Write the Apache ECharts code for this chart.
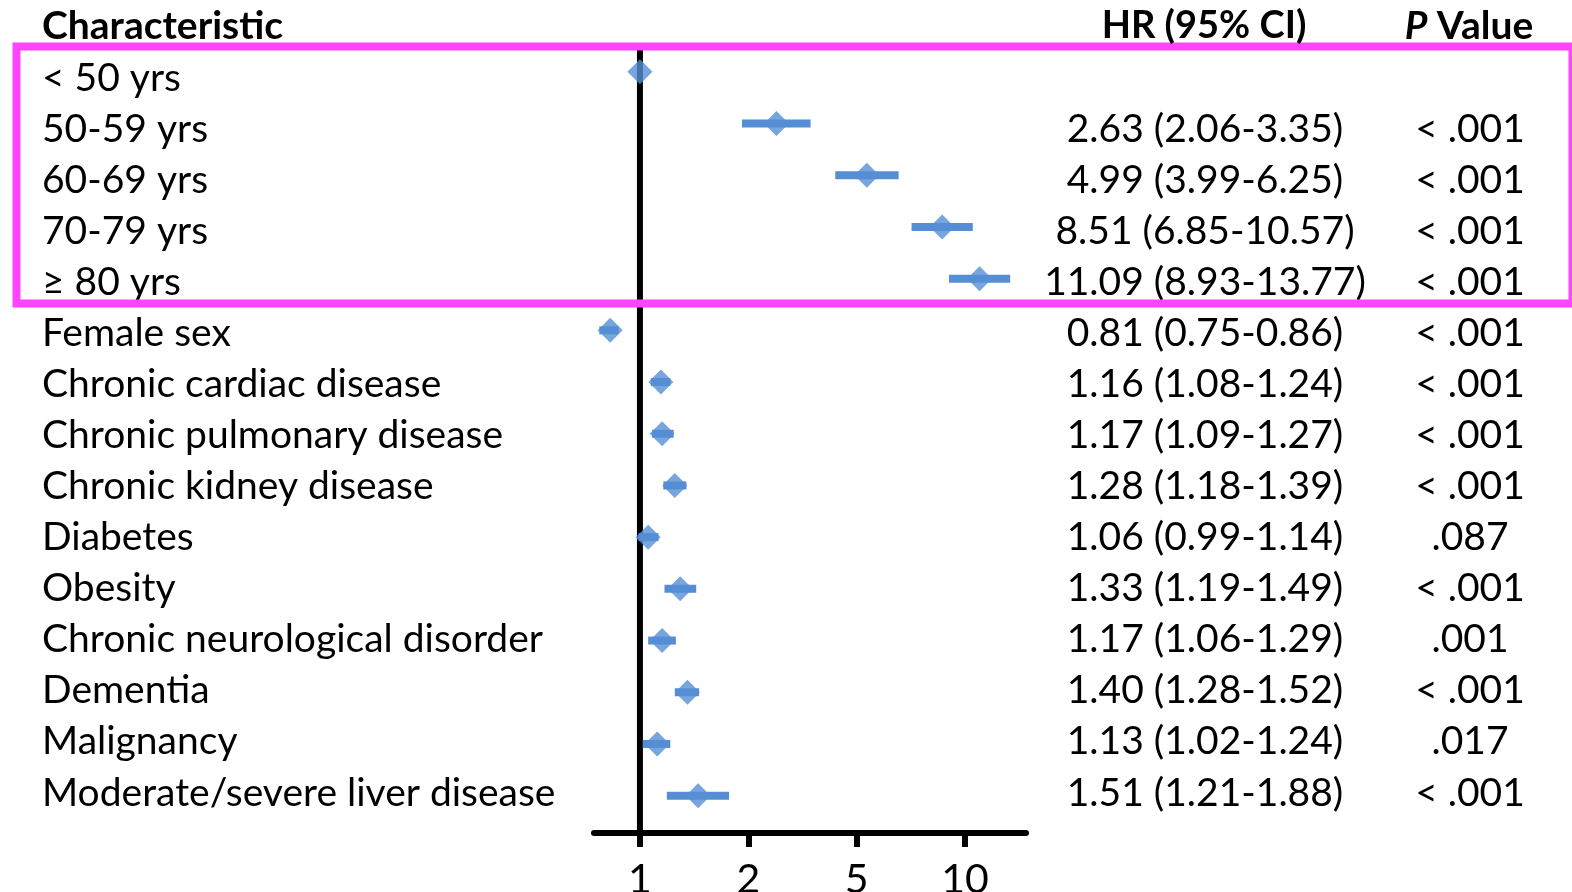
<!DOCTYPE html>
<html>
<head>
<meta charset="utf-8">
<script src="https://cdn.jsdelivr.net/npm/echarts@6/dist/echarts.min.js"></script>
<style>
html,body{margin:0;padding:0;background:#fff;}
#chart{width:1572px;height:892px;}
</style>
</head>
<body>
<div id="chart"></div>
<script>
// ---- data ----
const categories = ['< 50 yrs','50-59 yrs','60-69 yrs','70-79 yrs','≥ 80 yrs','Female sex','Chronic cardiac disease','Chronic pulmonary disease','Chronic kidney disease','Diabetes','Obesity','Chronic neurological disorder','Dementia','Malignancy','Moderate/severe liver disease'];
const hrValues = [1, 2.63, 4.99, 8.51, 11.09, 0.81, 1.16, 1.17, 1.28, 1.06, 1.33, 1.17, 1.40, 1.13, 1.51];
const ciLow = [null, 2.06, 3.99, 6.85, 8.93, 0.75, 1.08, 1.09, 1.18, 0.99, 1.19, 1.06, 1.28, 1.02, 1.21];
const ciHigh = [null, 3.35, 6.25, 10.57, 13.77, 0.86, 1.24, 1.27, 1.39, 1.14, 1.49, 1.29, 1.52, 1.24, 1.88];
const pValues = ['', '< .001', '< .001', '< .001', '< .001', '< .001', '< .001', '< .001', '< .001', '.087', '< .001', '.001', '< .001', '.017', '< .001'];
const xTickLabels = ['1', '2', '5', '10'];
const headers = ['Characteristic', 'HR (95% CI)', 'P Value'];

// ---- derived ----
const hrText = hrValues.map((v, i) => ciLow[i] == null ? '' :
  v.toFixed(2) + ' (' + ciLow[i].toFixed(2) + '-' + ciHigh[i].toFixed(2) + ')');
const ciData = [];
hrValues.forEach((v, i) => { if (ciLow[i] != null) ciData.push([ciLow[i], ciHigh[i], i]); });
const pointData = hrValues.map((v, i) => [v, i]);
// the reference figure spaces its axis ticks evenly (one third of a decade each)
const xTickPos = xTickLabels.map((_, i) => Math.pow(10, i / 3));
function tickLabelFor(v) {
  let best = 0;
  xTickPos.forEach((p, i) => { if (Math.abs(Math.log10(p) - Math.log10(v)) < Math.abs(Math.log10(xTickPos[best]) - Math.log10(v))) best = i; });
  return xTickLabels[best];
}

const BLUE = '#558ED5';
const FONT = 'Lato';
const FS = 39;
const AXIS_OFFSET = 11.5;

function textAxis(margin, align, formatter, position) {
  return {type: 'category', data: categories, inverse: true, position: position, gridIndex: 1,
    axisLine: {show: false}, axisTick: {show: false}, splitLine: {show: false},
    axisLabel: {interval: 0, align: align, margin: margin, color: '#000', fontFamily: FONT, fontSize: FS,
      formatter: formatter}};
}

const chart = echarts.init(document.getElementById('chart'), null, {renderer: 'canvas'});
chart.setOption({
  backgroundColor: '#fff',
  animation: false,
  grid: [
    {left: 594, right: 546, top: 46, height: 775.5, containLabel: false, outerBoundsMode: 'none'},
    {left: 594, right: 546, top: 52.5, height: 766, containLabel: false, outerBoundsMode: 'none'}
  ],
  xAxis: [
    {
      type: 'log', logBase: 10, min: 0.7222, max: 15.41, gridIndex: 0,
      offset: AXIS_OFFSET,
      axisLine: {show: true, lineStyle: {color: '#000', width: 6}},
      axisTick: {show: true, length: 14, lineStyle: {color: '#000', width: 6}, customValues: xTickPos},
      axisLabel: {show: true, customValues: xTickPos, color: '#000', fontFamily: FONT, fontSize: 41, margin: 26,
        formatter: (v) => tickLabelFor(v)},
      splitLine: {show: false}, minorTick: {show: false}
    },
    {type: 'value', gridIndex: 1, min: 0, max: 1, show: false}
  ],
  yAxis: [
    {type: 'category', data: categories, inverse: true, gridIndex: 0, show: false},
    textAxis(552, 'left', (v) => v, 'left'),
    textAxis(179, 'center', (v, i) => hrText[i], 'right'),
    textAxis(444, 'center', (v, i) => pValues[i], 'right')
  ],
  series: [
    {
      type: 'custom', name: 'ref', z: 1, silent: true,
      xAxisIndex: 0, yAxisIndex: 0,
      data: [[1, 0]],
      encode: {x: 0, y: 1},
      renderItem: function (params, api) {
        const cs = params.coordSys;
        const x = api.coord([api.value(0), 0])[0];
        return {type: 'line', shape: {x1: x, y1: cs.y, x2: x, y2: cs.y + cs.height + AXIS_OFFSET},
          style: {stroke: '#000', lineWidth: 6}};
      }
    },
    {
      type: 'custom', name: 'CI', z: 2, silent: true,
      xAxisIndex: 0, yAxisIndex: 0,
      data: ciData,
      encode: {x: [0, 1], y: 2},
      renderItem: function (params, api) {
        const a = api.coord([api.value(0), api.value(2)]);
        const b = api.coord([api.value(1), api.value(2)]);
        return {type: 'line', shape: {x1: a[0], y1: a[1], x2: b[0], y2: b[1]},
          style: {stroke: BLUE, lineWidth: 8}};
      }
    },
    {
      type: 'scatter', name: 'HR', z: 3, silent: true,
      xAxisIndex: 0, yAxisIndex: 0,
      data: pointData,
      symbol: 'diamond', symbolSize: [25, 25],
      itemStyle: {color: BLUE}
    }
  ],
  graphic: [
    {type: 'rect', z: 100, silent: true,
      shape: {x: 16.5, y: 46.5, width: 1556, height: 257},
      style: {fill: 'none', stroke: '#FF44FF', lineWidth: 8}},
    {type: 'text', z: 100, x: 42, y: 26,
      style: {text: headers[0], fontFamily: FONT, fontWeight: 'bold', fontSize: FS, fill: '#000', align: 'left', verticalAlign: 'middle'}},
    {type: 'text', z: 100, x: 1204, y: 26,
      style: {text: headers[1], fontFamily: FONT, fontWeight: 'bold', fontSize: 38, fill: '#000', align: 'center', verticalAlign: 'middle'}},
    {type: 'text', z: 100, x: 1469, y: 26,
      style: {text: '{i|P}{n|' + headers[2].slice(1) + '}', align: 'center', verticalAlign: 'middle',
        rich: {i: {fontFamily: FONT, fontWeight: 'bold', fontStyle: 'italic', fontSize: FS, fill: '#000'},
               n: {fontFamily: FONT, fontWeight: 'bold', fontSize: FS, fill: '#000'}}}}
  ]
});
</script>
</body>
</html>
